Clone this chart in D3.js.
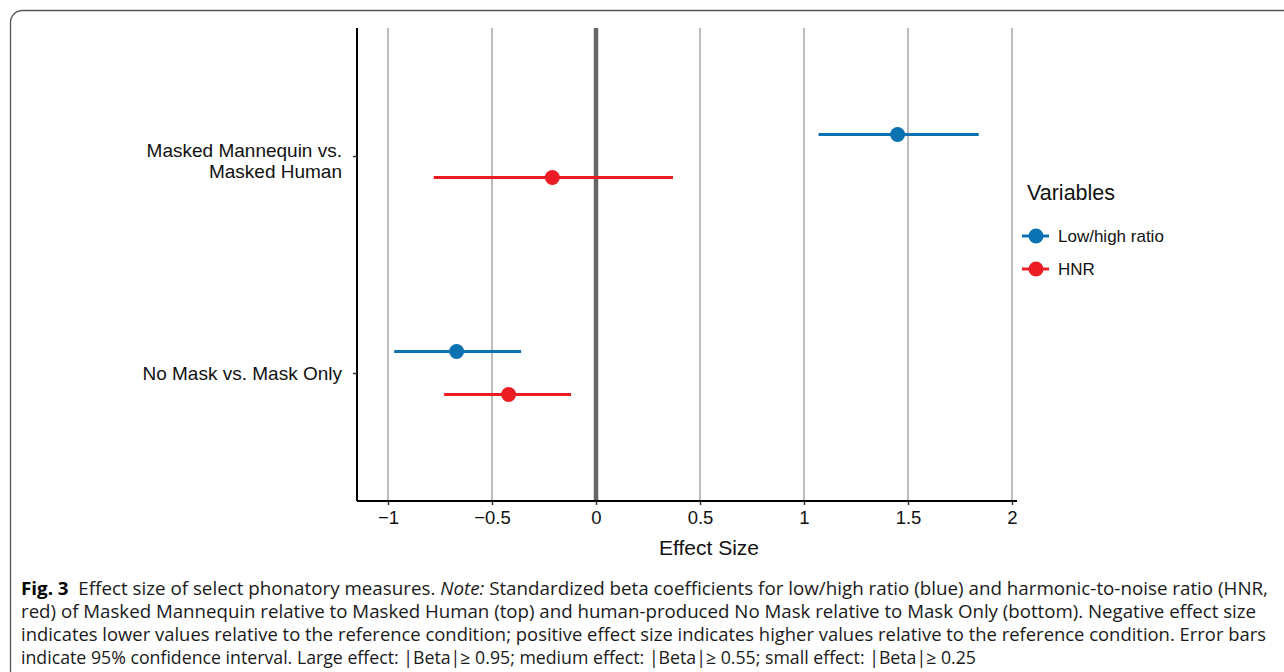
<!DOCTYPE html>
<html><head><meta charset="utf-8">
<script src="https://cdn.jsdelivr.net/npm/d3@7"></script>
<style>body{margin:0;background:#fff}svg{display:block}</style>
</head><body>
<svg id="c" width="1284" height="672"></svg>
<script>
const categories = ["Masked Mannequin vs.\nMasked Human", "No Mask vs. Mask Only"];
const variables = ["Low/high ratio", "HNR"];
const colors = ["#0a72b0", "#ec1c24"];
const estimates = { "Low/high ratio": [1.45, -0.67], "HNR": [-0.21, -0.42] };
const lower = { "Low/high ratio": [1.07, -0.97], "HNR": [-0.78, -0.73] };
const upper = { "Low/high ratio": [1.84, -0.36], "HNR": [0.37, -0.12] };
const xTicks = [-1, -0.5, 0, 0.5, 1, 1.5, 2];
const xTickLabels = ["\u22121", "\u22120.5", "0", "0.5", "1", "1.5", "2"];
const captionLines = [
  [["Fig. 3", "b"], ["  Effect size of select phonatory measures. ", ""], ["Note:", "i"], [" Standardized beta coefficients for low/high ratio (blue) and harmonic-to-noise ratio (HNR,", ""]],
  [["red) of Masked Mannequin relative to Masked Human (top) and human-produced No Mask relative to Mask Only (bottom). Negative effect size", ""]],
  [["indicates lower values relative to the reference condition; positive effect size indicates higher values relative to the reference condition. Error bars", ""]],
  [["indicate 95% confidence interval. Large effect: |Beta|\u2265 0.95; medium effect: |Beta|\u2265 0.55; small effect: |Beta|\u2265 0.25", ""]]
];
const captionWidths = [1247, 1235, 1245, 955];

const svg = d3.select("#c");
const font = "'Liberation Sans', Arial, sans-serif";

// frame
svg.append("rect").attr("x", 10.5).attr("y", 10.5).attr("width", 1300).attr("height", 700)
  .attr("rx", 12).attr("fill", "none").attr("stroke", "#555").attr("stroke-width", 1.3);

const pL = 357, pR = 1017, pT = 28, pB = 501;
const x = d3.scaleLinear().domain([-1.149, 2.024]).range([pL, pR]);
const y = d3.scalePoint().domain(categories).range([pT, pB]).padding(0.59);
const sub = d3.scalePoint().domain(variables).range([-21.5, 21.5]);

// grid
svg.append("g").selectAll("line").data(xTicks.filter(d => d !== 0)).join("line")
  .attr("x1", d => x(d)).attr("x2", d => x(d)).attr("y1", pT).attr("y2", pB)
  .attr("stroke", "#bdbdbd").attr("stroke-width", 2);
svg.append("line").attr("x1", x(0)).attr("x2", x(0)).attr("y1", pT).attr("y2", pB)
  .attr("stroke", "#666").attr("stroke-width", 4.5);

// x axis
const xa = svg.append("g").attr("transform", `translate(0,${pB})`)
  .call(d3.axisBottom(x).tickValues(xTicks).tickFormat((d, i) => xTickLabels[i]).tickSize(4).tickPadding(6));
xa.select(".domain").attr("stroke", "#000").attr("stroke-width", 2).attr("d", `M${pL},0H${pR}`);
xa.selectAll(".tick line").attr("stroke", "#333").attr("stroke-width", 1.5);
xa.selectAll("text").attr("font-family", font).attr("font-size", 18.5).attr("fill", "#111");

// y axis
const ya = svg.append("g").attr("transform", `translate(${pL},0)`)
  .call(d3.axisLeft(y).tickSize(4).tickFormat(""));
ya.select(".domain").attr("stroke", "#000").attr("stroke-width", 2).attr("d", `M0,${pT}V${pB}`);
ya.selectAll(".tick line").attr("stroke", "#333").attr("stroke-width", 1.5);
ya.selectAll(".tick").each(function(d) {
  const lines = d.split("\n");
  const t = d3.select(this).append("text").attr("x", -15).attr("text-anchor", "end")
    .attr("font-family", font).attr("font-size", 19).attr("fill", "#111");
  lines.forEach((l, i) => t.append("tspan").attr("x", -15)
    .attr("dy", i === 0 ? (lines.length > 1 ? 0 : 7) : 21).text(l));
});

// marks
variables.forEach((v, vi) => {
  const g = svg.append("g");
  categories.forEach((c, ci) => {
    const cy = y(c) + sub(v);
    g.append("line").attr("x1", x(lower[v][ci])).attr("x2", x(upper[v][ci]))
      .attr("y1", cy).attr("y2", cy).attr("stroke", colors[vi]).attr("stroke-width", 3);
    g.append("circle").attr("cx", x(estimates[v][ci])).attr("cy", cy).attr("r", 7.5).attr("fill", colors[vi]);
  });
});

// axis title
svg.append("text").attr("x", (pL + pR) / 2 + 22).attr("y", 555).attr("text-anchor", "middle")
  .attr("font-family", font).attr("font-size", 21).attr("fill", "#111").text("Effect Size");

// legend
svg.append("text").attr("x", 1027).attr("y", 200).attr("font-family", font).attr("font-size", 21.5)
  .attr("fill", "#111").text("Variables");
variables.forEach((v, i) => {
  const ly = 236 + i * 33;
  svg.append("line").attr("x1", 1022).attr("x2", 1049).attr("y1", ly).attr("y2", ly)
    .attr("stroke", colors[i]).attr("stroke-width", 3);
  svg.append("circle").attr("cx", 1036).attr("cy", ly).attr("r", 7.5).attr("fill", colors[i]);
  svg.append("text").attr("x", 1058).attr("y", ly + 6).attr("font-family", font).attr("font-size", 17)
    .attr("fill", "#111").text(v);
});

// caption
const capFont = "'Liberation Sans Narrow', 'Open Sans', sans-serif";
captionLines.forEach((parts, i) => {
  const t = svg.append("text").attr("x", 21).attr("y", 595 + i * 23)
    .attr("font-family", capFont).attr("font-size", 17.5).attr("fill", "#1a1a1a")
    .attr("textLength", captionWidths[i]).attr("lengthAdjust", "spacingAndGlyphs")
    .attr("xml:space", "preserve").style("white-space", "pre");
  parts.forEach(([s, st]) => {
    const ts = t.append("tspan").text(s);
    if (st === "b") ts.attr("font-weight", "bold").attr("fill", "#000");
    if (st === "i") ts.attr("font-style", "italic");
  });
});
</script>
</body></html>
